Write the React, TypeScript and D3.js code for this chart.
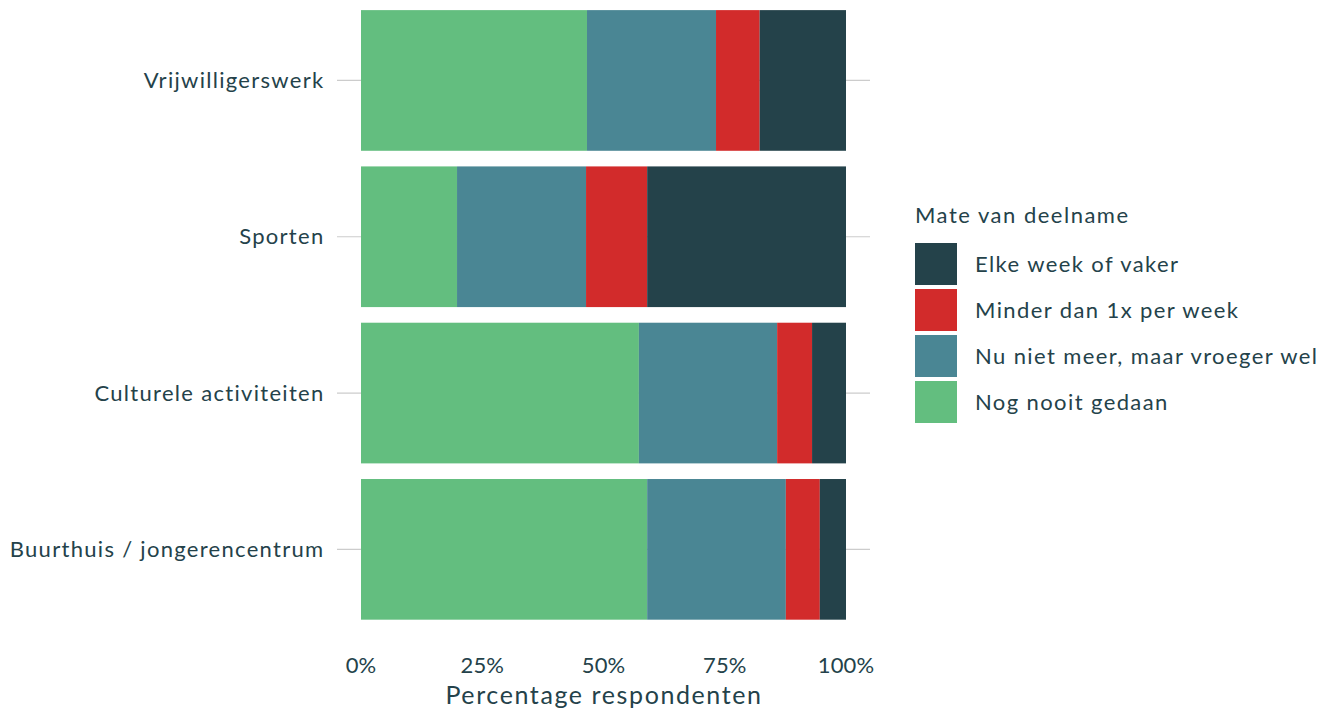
import React from "react";
import * as d3 from "d3";

const categories = ["Vrijwilligerswerk", "Sporten", "Culturele activiteiten", "Buurthuis / jongerencentrum"];
const seriesKeys = ["Nog nooit gedaan", "Nu niet meer, maar vroeger wel", "Minder dan 1x per week", "Elke week of vaker"];
const nooit = [46.6, 19.8, 57.3, 59.0];
const vroeger = [26.6, 26.6, 28.5, 28.6];
const minder = [9.0, 12.6, 7.2, 7.0];
const elkeWeek = [17.8, 41.0, 7.0, 5.4];
const colors = ["#63BE7F", "#4A8694", "#D22B2B", "#24424A"];
const xTicks = [0, 25, 50, 75, 100];

const FONT = "Lato, 'Open Sans', sans-serif";
const TXT = "#24424A";
const FW = 400;

export default function App() {
  const W = 1336, H = 711;
  const x = d3.scaleLinear().domain([0, 100]).range([361, 846]);
  const y = d3.scaleBand().domain(categories).range([2.3, 627.5]).paddingInner(0.1).paddingOuter(0.05);
  const rows = categories.map((c, i) => ({ cat: c, v: [nooit[i], vroeger[i], minder[i], elkeWeek[i]] }));
  const stackData = rows.map((r) => {
    const o: any = { cat: r.cat };
    seriesKeys.forEach((k, j) => (o[k] = r.v[j]));
    return o;
  });
  const stacked = d3.stack().keys(seriesKeys)(stackData);
  const legendOrder = [3, 2, 1, 0];

  return (
    <svg width={W} height={H} style={{ position: "absolute", left: 0, top: 0 }} fontFamily={FONT}>
      <rect width={W} height={H} fill="#fff" />
      {categories.map((c) => (
        <line key={c} x1={337} x2={870} y1={y(c)! + y.bandwidth() / 2} y2={y(c)! + y.bandwidth() / 2} stroke="#CCCCCC" strokeWidth={1.2} />
      ))}
      {stacked.map((s, j) => (
        <g key={s.key} fill={colors[j]}>
          {s.map((d: any, i: number) => (
            <rect key={i} x={x(d[0])} width={x(d[1]) - x(d[0])} y={y(categories[i])} height={y.bandwidth()} />
          ))}
        </g>
      ))}
      {categories.map((c) => (
        <text key={c} x={324.5} y={y(c)! + y.bandwidth() / 2} dy="0.35em" textAnchor="end" fontSize={22} letterSpacing={1.3} fill={TXT} fontWeight={FW}>
          {c}
        </text>
      ))}
      {xTicks.map((t) => (
        <text key={t} x={x(t)} y={673} textAnchor="middle" fontSize={22} letterSpacing={0.1} fill={TXT} fontWeight={FW}>
          {t}%
        </text>
      ))}
      <text x={604} y={704} textAnchor="middle" fontSize={25} letterSpacing={1.6} fill={TXT} fontWeight={FW}>
        Percentage respondenten
      </text>
      <text x={915} y={223} fontSize={22} letterSpacing={1.5} fill={TXT} fontWeight={FW}>
        Mate van deelname
      </text>
      {legendOrder.map((j, k) => (
        <g key={j}>
          <rect x={915} y={243 + k * 46} width={42} height={42} fill={colors[j]} />
          <text x={975} y={264 + k * 46} dy="0.35em" fontSize={22} letterSpacing={1.4} fill={TXT} fontWeight={FW}>
            {seriesKeys[j]}
          </text>
        </g>
      ))}
    </svg>
  );
}
